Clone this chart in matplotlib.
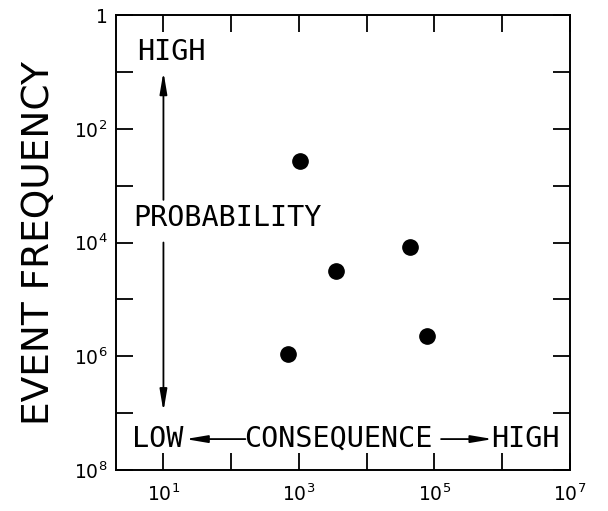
import matplotlib
matplotlib.use("Agg")
import matplotlib.pyplot as plt
import numpy as np

# consequence (x) and event frequency 1/N (y) of the five events
consequence = [10**2.84, 10**3.02, 10**3.54, 10**4.64, 10**4.89]
frequency = [10**5.96, 10**2.56, 10**4.50, 10**4.07, 10**5.64]

x_ticks = [10**k for k in range(1, 8)]
x_labels = ["$10^{1}$", "", "$10^{3}$", "", "$10^{5}$", "", "$10^{7}$"]
y_ticks = [10**k for k in range(0, 9)]
y_labels = ["1", "", "$10^{2}$", "", "$10^{4}$", "", "$10^{6}$", "", "$10^{8}$"]

fig = plt.figure(figsize=(6.08, 5.11), dpi=100)
ax = fig.add_axes([0.1908, 0.0802, 0.7467, 0.8904])

ax.plot(consequence, frequency, "o", color="black", markersize=11, linestyle="none")

ax.set_xscale("log")
ax.set_yscale("log")
ax.set_xlim(10**0.3, 10**7)
ax.set_ylim(10**8, 1)

ax.set_xticks(x_ticks)
ax.set_xticklabels(x_labels)
ax.set_yticks(y_ticks)
ax.set_yticklabels(y_labels)
ax.minorticks_off()
ax.tick_params(direction="in", length=12, width=1.3, top=True, right=True,
               labelsize=13.5, pad=10)
ax.tick_params(axis="y", pad=6)
for s in ax.spines.values():
    s.set_linewidth(1.4)

ax.set_ylabel("EVENT FREQUENCY", fontsize=27, labelpad=12)

mono = "DejaVu Sans Mono"
fs = 20.5
ax.text(0.046, 0.919, "HIGH", transform=ax.transAxes, family=mono, fontsize=fs, va="center")
ax.text(0.039, 0.554, "PROBABILITY", transform=ax.transAxes, family=mono, fontsize=fs, va="center")

# vertical probability arrows
arr = dict(arrowstyle="-|>,head_length=1.3,head_width=0.22", color="black", lw=1.3,
           shrinkA=0, shrinkB=0)
ax.annotate("", xy=(10, 10**1.0), xytext=(10, 10**3.25), arrowprops=arr)
ax.annotate("", xy=(10, 10**6.97), xytext=(10, 10**4.0), arrowprops=arr)

# bottom row: LOW <- CONSEQUENCE -> HIGH
yb = 0.068
ax.text(0.035, yb, "LOW", transform=ax.transAxes, family=mono, fontsize=fs, va="center")
ax.text(0.282, yb, "CONSEQUENCE", transform=ax.transAxes, family=mono, fontsize=fs, va="center")
ax.text(0.826, yb, "HIGH", transform=ax.transAxes, family=mono, fontsize=fs, va="center")
ax.annotate("", xy=(0.153, yb), xytext=(0.285, yb), xycoords="axes fraction",
            textcoords="axes fraction", arrowprops=arr)
ax.annotate("", xy=(0.830, yb), xytext=(0.716, yb), xycoords="axes fraction",
            textcoords="axes fraction", arrowprops=arr)

fig.savefig("out.png", dpi=100)
